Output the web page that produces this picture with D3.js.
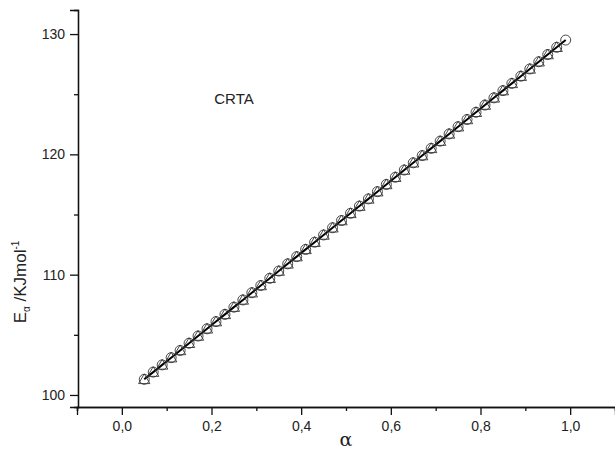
<!DOCTYPE html>
<html>
<head>
<meta charset="utf-8">
<script src="https://cdn.jsdelivr.net/npm/d3@7"></script>
<style>
  body { margin: 0; background: #fff; }
  text { font-family: "Liberation Sans", Arial, sans-serif; fill: #222; }
</style>
</head>
<body>
<svg id="chart" width="615" height="452"></svg>
<script>
// conversion degree alpha and activation energy (kJ/mol), CRTA run
const alpha = [0.05, 0.07, 0.09, 0.11, 0.13, 0.15, 0.17, 0.19, 0.21, 0.23, 0.25, 0.27,
  0.29, 0.31, 0.33, 0.35, 0.37, 0.39, 0.41, 0.43, 0.45, 0.47, 0.49, 0.51, 0.53, 0.55,
  0.57, 0.59, 0.61, 0.63, 0.65, 0.67, 0.69, 0.71, 0.73, 0.75, 0.77, 0.79, 0.81, 0.83,
  0.85, 0.87, 0.89, 0.91, 0.93, 0.95, 0.97, 0.99];
const energy = [101.3, 101.9, 102.5, 103.1, 103.7, 104.3, 104.9, 105.5, 106.1, 106.7,
  107.3, 107.9, 108.5, 109.1, 109.7, 110.3, 110.9, 111.5, 112.1, 112.7, 113.3, 113.9,
  114.5, 115.1, 115.7, 116.3, 116.9, 117.5, 118.1, 118.7, 119.3, 119.9, 120.5, 121.1,
  121.7, 122.3, 122.9, 123.5, 124.1, 124.7, 125.3, 125.9, 126.5, 127.1, 127.7, 128.3,
  128.9, 129.5];
// second marker series (triangles) stops one point earlier
const alphaTri = alpha.slice(0, 47);
const energyTri = energy.slice(0, 47);

const xTicks = [0, 0.2, 0.4, 0.6, 0.8, 1.0];
const xMinor = [-0.1, 0.1, 0.3, 0.5, 0.7, 0.9, 1.1];
const yTicks = [100, 110, 120, 130];
const yMinor = [105, 115, 125];

const svg = d3.select("#chart");
const x = d3.scaleLinear().domain([-0.1, 1.1]).range([77, 615]);
const y = d3.scaleLinear().domain([99, 132]).range([407, 10]);
const fmt = d => d3.format(".1f")(d).replace(".", ",");

// x axis
let gx = svg.append("g").attr("transform", "translate(0,407)");
gx.call(d3.axisBottom(x).tickValues(xTicks).tickFormat(fmt).tickSizeOuter(0).tickSize(8).tickPadding(6));
gx.append("g").call(d3.axisBottom(x).tickValues(xMinor).tickFormat("").tickSizeOuter(0).tickSize(4));
// y axis
let gy = svg.append("g").attr("transform", "translate(78,0)");
gy.call(d3.axisLeft(y).tickValues(yTicks).tickFormat(d3.format("d")).tickSizeOuter(0).tickSize(8).tickPadding(5));
gy.append("g").call(d3.axisLeft(y).tickValues(yMinor).tickFormat("").tickSizeOuter(0).tickSize(4));

svg.selectAll(".domain, .tick line").attr("stroke", "#111").attr("stroke-width", 1.3);
svg.selectAll(".tick text").attr("font-size", 14).style("font-family", "Liberation Sans, Arial, sans-serif").attr("fill", "#222");

// fitted line
let line = d3.line().x((d, i) => x(alpha[i])).y(d => y(d));
svg.append("path").datum(energy)
  .attr("d", line)
  .attr("fill", "none")
  .attr("stroke", "#000")
  .attr("stroke-width", 2);

// circles
svg.selectAll(".circ").data(energy).enter().append("circle")
  .attr("class", "circ")
  .attr("cx", (d, i) => x(alpha[i]))
  .attr("cy", d => y(d))
  .attr("r", 5)
  .attr("fill", "none")
  .attr("stroke", "#333")
  .attr("stroke-width", 0.9);

// triangles
let tri = d3.symbol().type(d3.symbolTriangle).size(55);
svg.selectAll(".tri").data(energyTri).enter().append("path")
  .attr("class", "tri")
  .attr("transform", (d, i) => "translate(" + x(alphaTri[i]) + "," + (y(d) + 1) + ")")
  .attr("d", tri)
  .attr("fill", "none")
  .attr("stroke", "#333")
  .attr("stroke-width", 0.9);

// annotation
svg.append("text").attr("x", 234).attr("y", 104)
  .attr("text-anchor", "middle").attr("font-size", 15).text("CRTA");

// axis titles
let yl = svg.append("text")
  .attr("transform", "translate(26,282) rotate(-90)")
  .attr("text-anchor", "middle")
  .attr("font-size", 17);
yl.append("tspan").text("E");
yl.append("tspan").attr("font-size", 10).attr("dy", 4).text("α");
yl.append("tspan").attr("dy", -4).text(" /KJmol");
yl.append("tspan").attr("font-size", 10).attr("dy", -7).text("-1");

svg.append("text").attr("x", 346).attr("y", 446)
  .attr("text-anchor", "middle")
  .attr("font-size", 19)
  .style("font-family", "DejaVu Serif, serif")
  .text("α");
</script>
</body>
</html>
